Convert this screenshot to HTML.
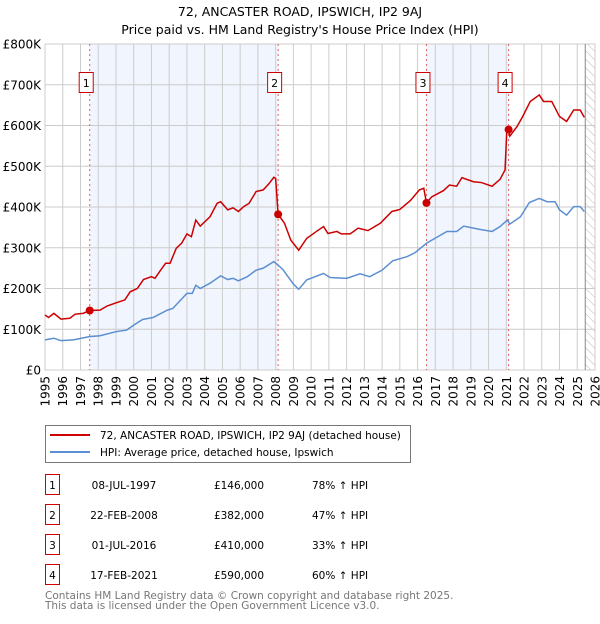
<!DOCTYPE html>
<html><head><meta charset="utf-8"><style>
body{margin:0;background:#fff;font-family:"DejaVu Sans","Liberation Sans",sans-serif;}
svg text{font-family:"DejaVu Sans","Liberation Sans",sans-serif;}
</style></head><body>
<svg id="c" width="600" height="620" xmlns="http://www.w3.org/2000/svg">
<defs><pattern id="hatch" width="6" height="6" patternUnits="userSpaceOnUse" patternTransform="rotate(-45)"><line x1="0" y1="0" x2="0" y2="6" stroke="#bbb" stroke-width="1"/></pattern></defs>
<text x="300" y="16" text-anchor="middle" font-size="12.5">72, ANCASTER ROAD, IPSWICH, IP2 9AJ</text>
<text x="300" y="34" text-anchor="middle" font-size="12.5">Price paid vs. HM Land Registry's House Price Index (HPI)</text>
<g id="plot"></g>
<g>
<rect x="45.5" y="425.5" width="365" height="37" fill="#fff" stroke="#777"/>
<line x1="50" y1="435" x2="90" y2="435" stroke="#cc0000" stroke-width="2"/>
<text x="100" y="439" font-size="10.5">72, ANCASTER ROAD, IPSWICH, IP2 9AJ (detached house)</text>
<line x1="50" y1="452" x2="90" y2="452" stroke="#5b8fd1" stroke-width="2"/>
<text x="100" y="456" font-size="10.5">HPI: Average price, detached house, Ipswich</text>
</g>
<g id="table" font-size="10.5"></g>
<text x="45" y="599" font-size="10.5" fill="#777">Contains HM Land Registry data © Crown copyright and database right 2025.</text>
<text x="45" y="609" font-size="10.5" fill="#777">This data is licensed under the Open Government Licence v3.0.</text>
</svg>
<script>
const yTicks=[0,100,200,300,400,500,600,700,800];
const yTickLabels=["£0","£100K","£200K","£300K","£400K","£500K","£600K","£700K","£800K"];
const xYears=[1995,1996,1997,1998,1999,2000,2001,2002,2003,2004,2005,2006,2007,2008,2009,2010,2011,2012,2013,2014,2015,2016,2017,2018,2019,2020,2021,2022,2023,2024,2025,2026];
const hpiT=[1995.0,1995.5,1995.9,1996.6,1997.5,1998.1,1999.0,1999.6,2000.0,2000.5,2001.1,2001.9,2002.2,2003.0,2003.3,2003.5,2003.75,2004.3,2004.9,2005.3,2005.6,2005.9,2006.4,2006.9,2007.3,2007.9,2008.4,2008.7,2009.0,2009.3,2009.75,2010.7,2011.07,2012.0,2012.76,2013.3,2014.0,2014.6,2015.4,2015.86,2016.5,2017.1,2017.65,2018.2,2018.6,2019.5,2020.2,2020.65,2021.06,2021.2,2021.8,2022.3,2022.86,2023.3,2023.75,2024.0,2024.4,2024.8,2025.16,2025.4];
const hpiV=[74,78,72,74,82,84,94,98,110,124,129,147,151,188,188,208,200,213,231,222,225,219,229,245,250,266,247,229,211,198,221,237,227,225,236,229,245,268,278,288,311,326,340,340,353,345,340,352,368,358,376,411,421,413,413,393,380,401,401,389];
const priceT=[1995.0,1995.2,1995.5,1995.9,1996.4,1996.7,1997.15,1997.52,1998.1,1998.5,1998.95,1999.5,1999.8,2000.2,2000.55,2001.0,2001.2,2001.5,2001.8,2002.05,2002.4,2002.7,2003.0,2003.25,2003.5,2003.75,2004.3,2004.7,2004.9,2005.3,2005.6,2005.9,2006.2,2006.5,2006.9,2007.3,2007.6,2007.9,2008.0,2008.14,2008.5,2008.85,2009.3,2009.75,2010.3,2010.7,2010.95,2011.45,2011.7,2012.2,2012.65,2013.2,2013.9,2014.55,2015.0,2015.6,2016.1,2016.35,2016.5,2016.8,2017.45,2017.8,2018.2,2018.5,2019.15,2019.6,2020.2,2020.65,2020.93,2021.03,2021.13,2021.2,2021.6,2021.9,2022.35,2022.86,2023.1,2023.56,2024.0,2024.4,2024.8,2025.16,2025.4];
const priceV=[135,129,139,125,127,137,139,146,147,157,164,172,192,200,222,229,225,244,262,262,299,311,334,327,368,353,376,409,413,393,398,389,401,409,438,442,456,473,470,382,360,319,294,323,340,352,335,340,334,334,348,342,360,389,394,416,442,446,410,425,440,454,451,472,462,460,451,468,491,589,590,574,597,620,659,675,659,659,622,610,638,638,620];
const saleNums=["1","2","3","4"];
const saleT=[1997.52,2008.14,2016.5,2021.13];
const saleV=[146,382,410,590];
const saleDates=["08-JUL-1997","22-FEB-2008","01-JUL-2016","17-FEB-2021"];
const salePrices=["£146,000","£382,000","£410,000","£590,000"];
const saleHpi=["78% ↑ HPI","47% ↑ HPI","33% ↑ HPI","60% ↑ HPI"];

const NS="http://www.w3.org/2000/svg";
const X0=45,X1=595,Y0=370,Y1=44;
const xs=t=>X0+(t-1995)/(2026-1995)*(X1-X0);
const ys=v=>Y0-v/800*(Y0-Y1);
const plot=document.getElementById('plot');
function mk(tag,attrs,parent){const e=document.createElementNS(NS,tag);for(const k in attrs)e.setAttribute(k,attrs[k]);(parent||plot).appendChild(e);return e;}
for(let i=0;i<saleT.length;i+=2){
 const r=mk('rect',{x:xs(saleT[i]),y:Y1,width:xs(saleT[i+1])-xs(saleT[i]),height:Y0-Y1,fill:'#eef3fc',opacity:0.8});
 
 
}
const h=mk('rect',{x:xs(2025.45),y:Y1,width:X1-xs(2025.45),height:Y0-Y1,fill:'url(#hatch)'});


yTicks.forEach((v,i)=>{
 const g=mk('line',{x1:X0,x2:X1,y1:ys(v),y2:ys(v),stroke:'#ccc','stroke-width':1});
 
 
 const t=mk('text',{x:X0-4,y:ys(v)+4.5,'text-anchor':'end','font-size':12});
 t.textContent=yTickLabels[i];
 
 
});
xYears.forEach(yr=>{
 const g=mk('line',{x1:xs(yr),x2:xs(yr),y1:Y1,y2:Y0,stroke:'#ccc','stroke-width':1});
 
 
 const t=mk('text',{x:0,y:0,'text-anchor':'end','font-size':12,transform:`translate(${xs(yr)+4.5},376) rotate(-90)`});
 t.textContent=yr;
 
 
});
const bd=mk('rect',{x:X0,y:Y1,width:X1-X0,height:Y0-Y1,fill:'none',stroke:'#ccc'});


const nl=mk('line',{x1:xs(2025.45),x2:xs(2025.45),y1:Y1,y2:Y0,stroke:'#888','stroke-width':1});


saleT.forEach((t,i)=>{
 const l=mk('line',{x1:xs(t),x2:xs(t),y1:Y1,y2:Y0,stroke:'#e06060','stroke-width':1,'stroke-dasharray':'2,3'});
 
 
 const b=mk('rect',{x:xs(t)-10.5,y:72.5,width:14,height:20,fill:'#fff',stroke:'#cc0000'});
 
 
 const tx=mk('text',{x:xs(t)-3.5,y:87,'text-anchor':'middle','font-size':11});
 tx.textContent=saleNums[i];
 
 
});
const hp=mk('polyline',{points:hpiT.map((t,i)=>xs(t)+','+ys(hpiV[i])).join(' '),fill:'none',stroke:'#5b8fd1','stroke-width':1.5});


const pp=mk('polyline',{points:priceT.map((t,i)=>xs(t)+','+ys(priceV[i])).join(' '),fill:'none',stroke:'#cc0000','stroke-width':1.5});


saleT.forEach((t,i)=>{
 const c=mk('circle',{cx:xs(t),cy:ys(saleV[i]),r:4,fill:'#cc0000'});
 
 
});
const tb=document.getElementById('table');
saleT.forEach((t,i)=>{
 const y=483+i*30;
 const b=mk('rect',{x:45.5,y:y-8.5,width:14,height:20,fill:'#fff',stroke:'#cc0000'},tb);
 
 
 const n=mk('text',{x:52.5,y:y+6,'text-anchor':'middle'},tb);n.textContent=saleNums[i];
 
 
 const d=mk('text',{x:124,y:y+6,'text-anchor':'middle'},tb);d.textContent=saleDates[i];
 
 
 const p=mk('text',{x:239,y:y+6,'text-anchor':'middle'},tb);p.textContent=salePrices[i];
 
 
 const q=mk('text',{x:312,y:y+6},tb);q.textContent=saleHpi[i];
 
 
});
</script>
</body></html>
